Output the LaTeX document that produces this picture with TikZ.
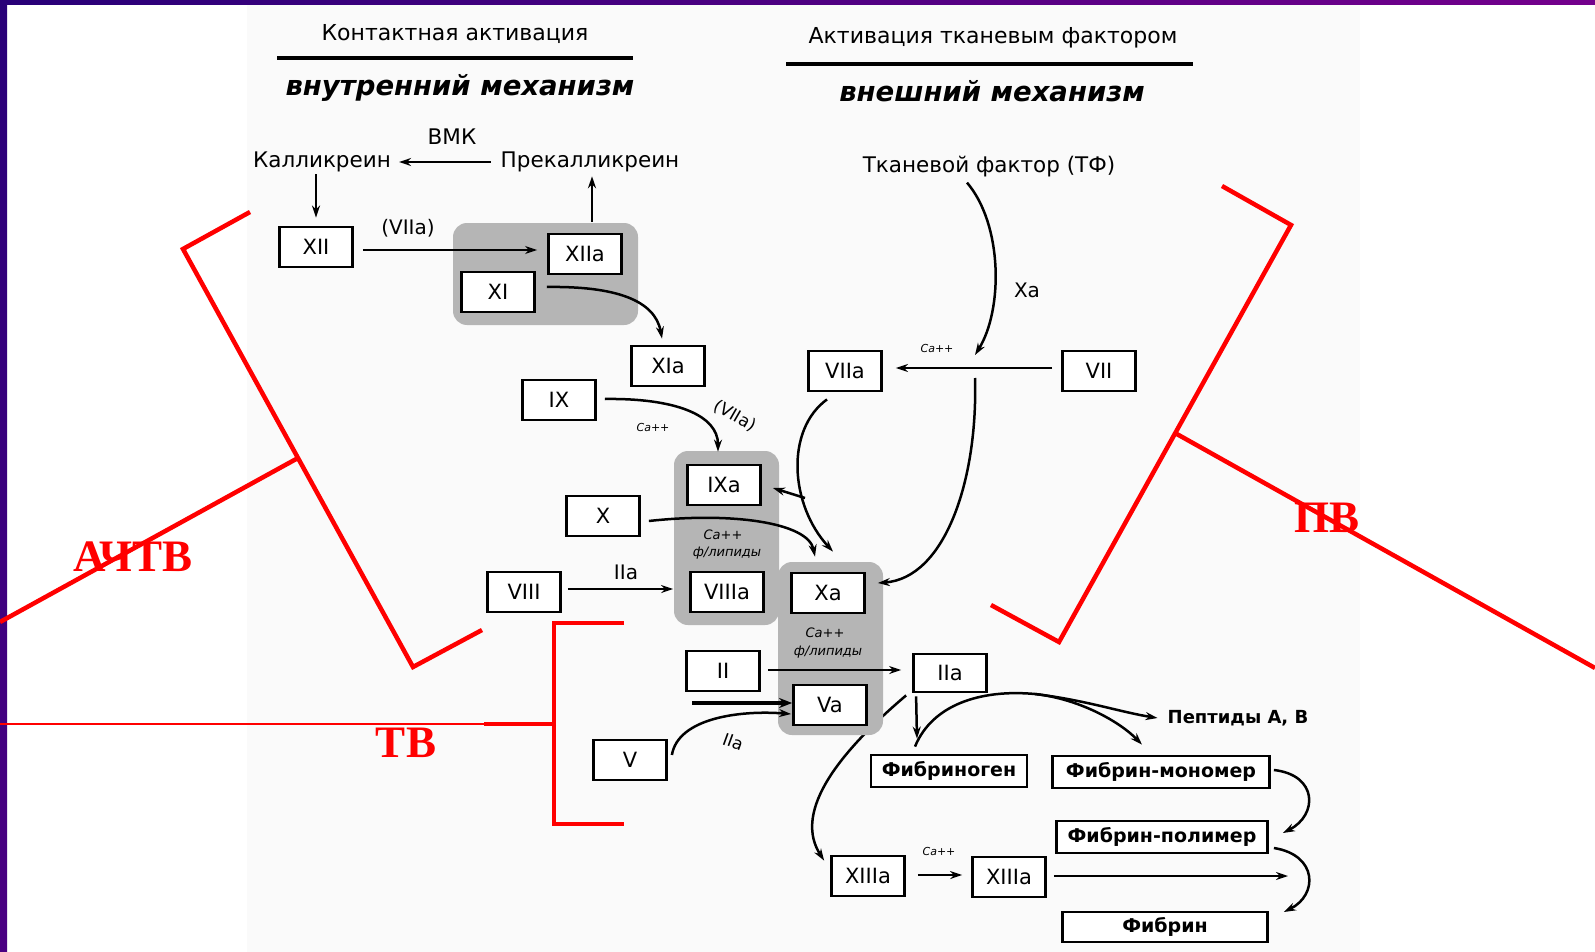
\documentclass[tikz,border=0pt]{standalone}
\usepackage{fontspec}
\setmainfont{DejaVu Sans}
\newfontfamily\redfont{Liberation Serif}
\usetikzlibrary{arrows.meta,calc}
\pgfdeclarelayer{bgzero}
\pgfdeclarelayer{bgone}
\pgfsetlayers{bgzero,bgone,main}
\begin{document}
\begin{tikzpicture}[x=1pt,y=-1pt,
  box/.style={draw, line width=2.8pt, fill=white, minimum width=73pt, minimum height=40pt, inner sep=0pt, font=\fontsize{21}{24}\selectfont},
  fbox/.style={draw, line width=2.8pt, fill=white, minimum height=32pt, inner sep=0pt, font=\fontsize{19}{22}\selectfont\bfseries},
  lbl/.style={inner sep=0pt, font=\fontsize{21.5}{24}\selectfont},
  plbl/.style={inner sep=0pt, font=\fontsize{18}{22}\selectfont\bfseries},
  sm/.style={inner sep=0pt, font=\fontsize{20}{22}\selectfont},
  ca/.style={inner sep=0pt, font=\fontsize{11}{13}\selectfont\itshape},
  catwo/.style={inner sep=0pt, font=\fontsize{13}{15}\selectfont\itshape},
  hdr/.style={inner sep=0pt, font=\fontsize{22}{26}\selectfont},
  hdrb/.style={inner sep=0pt, font=\fontsize{27.5}{30}\selectfont\bfseries\itshape},
  arr/.style={line width=2.5pt, -{Stealth[length=12pt,width=8pt]}},
  grp/.style={fill=black!29, rounded corners=14pt},
  redline/.style={red, line width=4.5pt},
  redlbl/.style={red, inner sep=0pt, font=\redfont\fontsize{45}{50}\selectfont\bfseries}]
\useasboundingbox (0,0) rectangle (1595,952);
\begin{pgfonlayer}{bgzero}
\fill[white] (0,0) rectangle (1595,952);
\fill[black!2] (247,5) rectangle (1360,952);
\shade[left color={rgb,255:red,40;green,0;blue,120}, right color={rgb,255:red,116;green,0;blue,140}] (0,0) rectangle (1595,5);
\shade[top color={rgb,255:red,40;green,0;blue,120}, bottom color={rgb,255:red,75;green,0;blue,130}] (0,0) rectangle (7,952);
\end{pgfonlayer}
\begin{pgfonlayer}{bgone}
\fill[grp] (453,223) rectangle (638,325);
\fill[grp] (674,451) rectangle (779,625);
\fill[grp] (778,562) rectangle (883,735);
\end{pgfonlayer}

% headers
\node[hdr] (h1) at (455,34) {Контактная активация};
\draw[line width=3.2pt] (277,58) -- (633,58);
\node[hdrb] (h2) at (460,88) {внутренний механизм};
\node[hdr] (h3) at (993,38) {Активация тканевым фактором};
\draw[line width=3.2pt] (786,64) -- (1193,64);
\node[hdrb] (h4) at (992,91) {внешний механизм};

% boxes
\node[box] (XII) at (316,247) {XII};
\node[box] (XIIa) at (585,254) {XIIa};
\node[box] (XI) at (498,292) {XI};
\node[box] (XIa) at (668,366) {XIa};
\node[box] (IX) at (559,400) {IX};
\node[box] (VIIa) at (845,371) {VIIa};
\node[box] (VII) at (1099,371) {VII};
\node[box] (IXa) at (724,485) {IXa};
\node[box] (X) at (603,516) {X};
\node[box] (VIII) at (524,592) {VIII};
\node[box] (VIIIa) at (727,592) {VIIIa};
\node[box] (Xa) at (828,593) {Xa};
\node[box] (II) at (723,671) {II};
\node[box] (Va) at (830,705) {Va};
\node[box] (V) at (630,760) {V};
\node[box, minimum height=38pt] (IIa) at (950,673) {IIa};
\node[fbox, minimum width=156pt] (Fg) at (949,771) {Фибриноген};
\node[fbox, minimum width=217pt] (Fm) at (1161,772) {Фибрин-мономер};
\node[fbox, minimum width=211pt] (Fp) at (1162,837) {Фибрин-полимер};
\node[box] (XIIIa1) at (868,876) {XIIIa};
\node[box] (XIIIa2) at (1009,877) {XIIIa};
\node[fbox, minimum width=205pt, minimum height=30pt] (Fb) at (1165,927) {Фибрин};

% text labels
\node[lbl] (vmk) at (452,137) {ВМК};
\node[lbl] (kal) at (322,162) {Калликреин};
\node[lbl] (prekal) at (590,162) {Прекалликреин};
\node[lbl] (tf) at (989,167) {Тканевой фактор (ТФ)};
\node[plbl] (pept) at (1238,718) {Пептиды А, В};

\node[sm] (l1) at (408,228) {(VIIa)};
\node[sm] (l2) at (1027,290) {Xa};
\node[ca] (l3) at (937,348) {Ca++};
\node[ca] (l4) at (653,427) {Ca++};
\node[sm, rotate=-30, font=\fontsize{17}{19}\selectfont] (l5) at (735,416) {(VIIa)};
\node[catwo] (l6) at (723,535) {Ca++};
\node[catwo] (l7) at (727,553) {ф/липиды};
\node[sm] (l8) at (626,572) {IIa};
\node[catwo] (l9) at (825,633) {Ca++};
\node[catwo] (l10) at (828,652) {ф/липиды};
\node[sm, rotate=-20, font=\fontsize{17}{20}\selectfont] (l11) at (733,742) {IIa};
\node[ca] (l12) at (939,851) {Ca++};

% coordinates
\coordinate (rx) at (975,368);
\coordinate (fbk) at (805,498);
\coordinate (thk) at (692,703);
\coordinate (fe) at (1288,876);
\coordinate (fgs) at ($(Fg.north)+(-34,-7)$);
\coordinate (pk) at (1035,694);

% arrows
\draw[arr] ([xshift=-10pt]prekal.west) -- ([xshift=8pt]kal.east);
\draw[arr] ($(XII.north |- kal.south)+(0,2)$) -- ($(XII.north)+(0,-8)$);
\draw[arr] ($(XII.east)+(9,3)$) -- ($(XIIa.west)+(-10,-4)$);
\draw[arr] ($(XIIa.north)+(7,-11)$) -- ($(prekal.south)+(2,4)$);
\draw[arr] ($(XI.east)+(11,-5)$) .. controls (615,286) and (655,300) .. ($(XIa.north)+(-6,-6)$);
\draw[arr] ($(IX.east)+(8,-1)$) .. controls (675,398) and (718,415) .. ($(IXa.north)+(-6,-12)$);
\draw[arr] ($(X.east)+(8,5)$) .. controls (730,512) and (808,522) .. ($(Xa.north)+(-13,-15)$);
\draw[arr] ($(VIII.east)+(6,-3)$) -- ($(VIIIa.west)+(-16,-3)$);
\draw[arr] ($(VIIa.south)+(-18,7)$) .. controls (785,430) and (790,505) .. ($(Xa.north)+(5,-20)$);
\draw[arr] (fbk) -- ($(IXa.east)+(11,3)$);
\draw[arr] ($(tf.south)+(-22,5)$) .. controls (1003,225) and (1003,310) .. ($(rx)+(0,-13)$);
\draw[arr] ($(VII.west)+(-9,-3)$) -- ($(VIIa.east)+(13,-3)$);
\draw[arr] ($(rx)+(0,10)$) .. controls (978,480) and (945,578) .. ($(Xa.east)+(12,-10)$);
\draw[arr] ($(II.east)+(7,-1)$) -- ($(IIa.west)+(-11,-3)$);
\draw[line width=4.5pt, -{Stealth[length=13pt,width=10pt]}] (thk) -- ($(Va.west)+(0,-2)$);
\draw[arr] ($(V.east)+(4,-5)$) .. controls (678,718) and (740,710) .. ($(Va.west)+(-1,9)$);
\draw[arr] ($(IIa.south west)+(4,3)$) -- ($(Fg.north)+(-32,-15)$);
\draw[line width=2.5pt] (fgs) .. controls (932,705) and (980,689) .. (pk);
\draw[arr] (pk) .. controls (1085,700) and (1120,712) .. ($(pept.west)+(-10,0)$);
\draw[arr] (pk) .. controls (1080,699) and (1120,722) .. ($(Fm.north)+(-19,-10)$);
\draw[arr] ($(Fm.east)+(3,-2)$) .. controls (1318,775) and (1318,815) .. ($(Fp.east)+(14,-4)$);
\draw[arr] ($(Fp.east)+(5,11)$) .. controls (1318,855) and (1318,895) .. ($(Fb.east)+(15,-15)$);
\draw[arr] ($(XIIIa1.east)+(12,-1)$) -- ($(XIIIa2.west)+(-9,-2)$);
\draw[arr] ($(XIIIa2.east)+(7,-1)$) -- (fe);
\begin{pgfonlayer}{bgzero}
\draw[arr] ($(IIa.south west)+(-6,2)$) .. controls (830,760) and (795,815) .. ($(XIIIa1.north west)+(-6,6)$);
\end{pgfonlayer}

% red brackets
\draw[redline, line join=miter] (250,212) -- (183,249) -- (413,667) -- (482,630);
\draw[redline] (298,458) -- (0,622);
\draw[redline, line join=miter] (624,623) -- (554,623) -- (554,824) -- (624,824);
\draw[redline] (556,724) -- (484,724);
\draw[red, line width=2.5pt] (484,724) -- (0,724);
\draw[redline, line join=miter] (1222,186) -- (1291,225) -- (1059,642) -- (991,605);
\draw[redline] (1175,433) -- (1595,668);
\node[redlbl] (achtv) at (133,557) {АЧТВ};
\node[redlbl] (tv) at (406,743) {ТВ};
\node[redlbl] (pv) at (1327,518) {ПВ};
\end{tikzpicture}
\end{document}
